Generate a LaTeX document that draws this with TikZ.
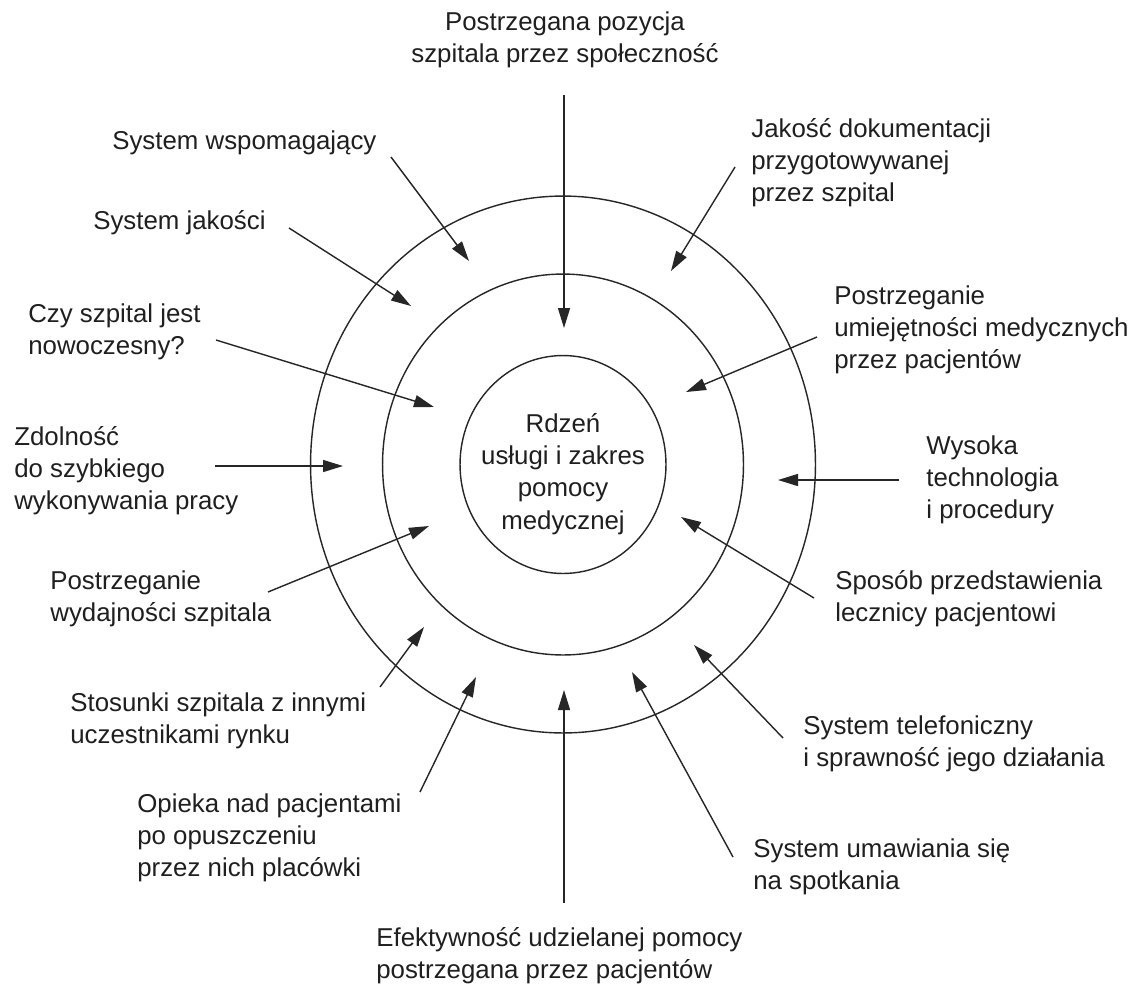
\documentclass[tikz,border=0pt]{standalone}
\usepackage{fontspec}
\setmainfont{Liberation Sans}
\usetikzlibrary{arrows.meta}
\tikzset{
  x=0.02cm, y=-0.02cm,
  lbl/.style={anchor=west, align=left, inner sep=0pt, font=\fontsize{14.7}{18.3}\selectfont, text=black!88},
  clbl/.style={anchor=center, align=center, inner sep=0pt, font=\fontsize{14.7}{18.3}\selectfont, text=black!88},
  ring/.style={draw=black!85, line width=0.8pt},
  arr/.style={draw=black!85, line width=0.8pt, -{Triangle[length=4mm,width=2.4mm]}}
}
\begin{document}
\begin{tikzpicture}
\fill[white] (0,0) rectangle (1141,988);
\useasboundingbox (0,0) rectangle (1141,988);
\coordinate (c) at (563,464.5);
\draw[ring] (c) ellipse [x radius=5.05cm, y radius=5.37cm];
\draw[ring] (c) ellipse [x radius=3.61cm, y radius=3.81cm];
\draw[ring] (c) ellipse [x radius=2.06cm, y radius=2.18cm];

\node[clbl] (core) at (563,474) {Rdzeń\\usługi i zakres\\pomocy\\medycznej};

\node[clbl] (top) at (565,40) {Postrzegana pozycja\\szpitala przez społeczność};
\node[lbl] (wsp) at (112,143) {System wspomagający};
\node[lbl] (jak) at (93,223) {System jakości};
\node[lbl] (czy) at (28,332) {Czy szpital jest\\nowoczesny?};
\node[lbl] (zdo) at (14,471) {Zdolność\\do szybkiego\\wykonywania pracy};
\node[lbl] (wyd) at (50,599) {Postrzeganie\\wydajności szpitala};
\node[lbl] (sto) at (70,721) {Stosunki szpitala z innymi\\uczestnikami rynku};
\node[lbl] (opi) at (137,838) {Opieka nad pacjentami\\po opuszczeniu\\przez nich placówki};
\node[lbl] (efe) at (376,956) {Efektywność udzielanej pomocy\\postrzegana przez pacjentów};
\node[lbl] (uma) at (753,867) {System umawiania się\\na spotkania};
\node[lbl] (tel) at (803,744) {System telefoniczny\\i sprawność jego działania};
\node[lbl] (spo) at (835,599) {Sposób przedstawienia\\lecznicy pacjentowi};
\node[lbl] (wys) at (926,480) {Wysoka\\technologia\\i procedury};
\node[lbl] (umi) at (834,330) {Postrzeganie\\umiejętności medycznych\\przez pacjentów};
\node[lbl] (dok) at (751,163) {Jakość dokumentacji\\przygotowywanej\\przez szpital};

% arrow start / tip coordinates
\coordinate (s1) at (564,95);   \coordinate (t1) at (564,328);
\coordinate (s2) at (391,157);  \coordinate (t2) at (469,261);
\coordinate (s3) at (289,228);  \coordinate (t3) at (411,306);
\coordinate (s4) at (216,340);  \coordinate (t4) at (434,407);
\coordinate (s5) at (215,466);  \coordinate (t5) at (343,466);
\coordinate (s6) at (268,592);  \coordinate (t6) at (429,526);
\coordinate (s7) at (380,687);  \coordinate (t7) at (424,627);
\coordinate (s8) at (420,792);  \coordinate (t8) at (476,677);
\coordinate (s9) at (564,903);  \coordinate (t9) at (564,690);
\coordinate (s10) at (733,857); \coordinate (t10) at (632,672);
\coordinate (s11) at (783,738); \coordinate (t11) at (694,645);
\coordinate (s12) at (814,598); \coordinate (t12) at (681,517);
\coordinate (s13) at (899,480); \coordinate (t13) at (778,480);
\coordinate (s14) at (817,337); \coordinate (t14) at (686,392);
\coordinate (s15) at (735,167); \coordinate (t15) at (671,271);

\foreach \i in {1,...,15} {\draw[arr] (s\i) -- (t\i);}
\end{tikzpicture}
\end{document}
